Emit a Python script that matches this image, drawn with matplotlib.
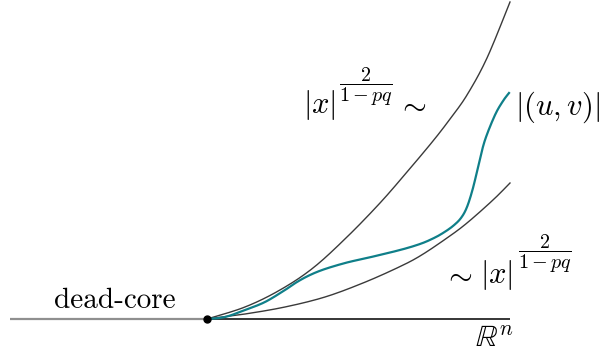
import matplotlib
matplotlib.use("Agg")
import matplotlib.pyplot as plt
import numpy as np

plt.rcParams['mathtext.fontset'] = 'cm'

# curves, measured from the dead-core point (x right, y up)
upper_x = [0, 38, 73, 106, 140, 173, 200, 226, 243, 260, 280, 303]
upper_y = [0, 12, 29, 51, 82, 116, 147, 178, 200, 224, 261, 317]

lower_x = [0, 38, 78, 118, 156, 190, 213, 240, 260, 286, 303]
lower_y = [0, 5, 12, 22, 36, 51, 63, 81, 96, 119, 136]

sol_x = [0, 18, 38, 58, 78, 90, 103, 118, 140, 160, 193, 213, 226, 236, 246,
         254, 260, 266, 272, 278, 288, 296, 302]
sol_y = [0, 2, 9, 17, 29, 37, 44, 50, 56.5, 61, 69, 75, 80.5, 86, 93,
         101, 112, 131, 156, 179, 204, 218, 226]

core_start = -197
axis_end = 303


def smooth(xs, ys, steps=16):
    # catmull-rom through the read points, only for drawing
    p = np.column_stack([xs, ys]).astype(float)
    p = np.vstack([p[0], p, p[-1]])
    out = []
    t = np.linspace(0, 1, steps, endpoint=False)[:, None]
    for i in range(1, len(p) - 2):
        p0, p1, p2, p3 = p[i - 1], p[i], p[i + 1], p[i + 2]
        seg = 0.5 * ((2 * p1) + (-p0 + p2) * t + (2 * p0 - 5 * p1 + 4 * p2 - p3) * t ** 2
                     + (-p0 + 3 * p1 - 3 * p2 + p3) * t ** 3)
        out.append(seg)
    out.append(p[-2][None, :])
    out = np.vstack(out)
    return out[:, 0], out[:, 1]


fig = plt.figure(figsize=(6.03, 3.56), dpi=100)
ax = fig.add_axes([0, 0, 1, 1])
ax.set_xlim(-207, 396)
ax.set_ylim(-37, 319)
ax.axis('off')

ax.plot([core_start, 0], [0, 0], color='#8f8f8f', lw=1.6, solid_capstyle='butt')
ax.plot([0, axis_end], [0, 0], color='black', lw=1.1, solid_capstyle='butt')

ax.plot(*smooth(upper_x, upper_y), color='#3a3a3a', lw=1.0)
ax.plot(*smooth(lower_x, lower_y), color='#3a3a3a', lw=1.0)
ax.plot(*smooth(sol_x, sol_y), color='#0f7f89', lw=1.6)
ax.plot([0], [0], 'o', color='black', ms=5, zorder=5)

expo = r'$\dfrac{2}{1-pq}$'

ax.text(-92, 11, 'dead-core', family='cmr10', fontsize=21, ha='center', va='baseline')

ax.text(96, 206, r'$|x|$', fontsize=22, ha='left', va='baseline')
ax.text(132, 232, expo, fontsize=14.5, ha='left', va='center')
ax.text(190, 206, r'$\sim$', fontsize=22, ha='left', va='baseline')

ax.text(308, 204, r'$|(u,v)|$', fontsize=22, ha='left', va='baseline')

ax.text(236, 36, r'$\sim$', fontsize=22, ha='left', va='baseline')
ax.text(273, 36, r'$|x|$', fontsize=22, ha='left', va='baseline')
ax.text(311, 65, expo, fontsize=14.5, ha='left', va='center')

ax.text(268, -28, r'$\mathbb{R}^n$', fontsize=22, ha='left', va='baseline')

fig.savefig('out.png', dpi=100)
